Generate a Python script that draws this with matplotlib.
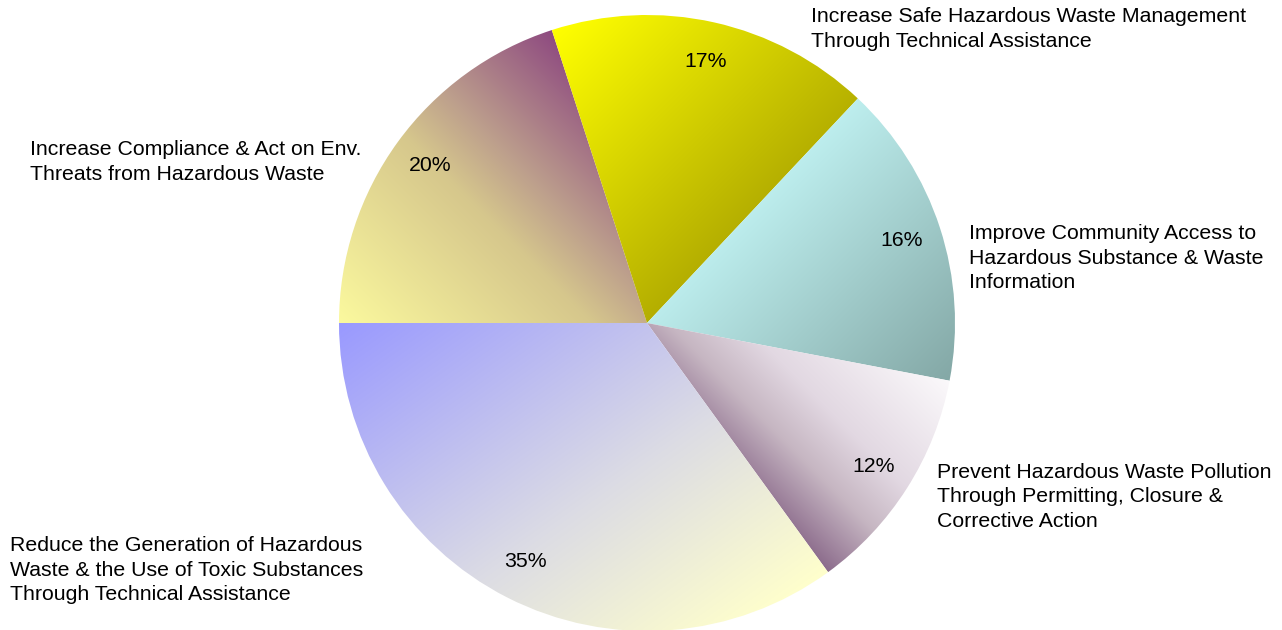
import numpy as np
import matplotlib.pyplot as plt
from matplotlib.colors import to_rgb

# Share of effort by goal
goals = [
    'Increase Compliance & Act on Env.\nThreats from Hazardous Waste',
    'Increase Safe Hazardous Waste Management\nThrough Technical Assistance',
    'Improve Community Access to\nHazardous Substance & Waste\nInformation',
    'Prevent Hazardous Waste Pollution\nThrough Permitting, Closure &\nCorrective Action',
    'Reduce the Generation of Hazardous\nWaste & the Use of Toxic Substances\nThrough Technical Assistance',
]
shares = [20, 17, 16, 12, 35]

# gradient fill per slice: (position, colour) stops and direction (dx, dy) on screen
stops = [
    [(0, '#fbf99e'), (0.5, '#d6c78c'), (0.68, '#bb9c8c'), (1, '#8e4a80')],
    [(0, '#ffff00'), (1, '#b4ae00')],
    [(0, '#bdeeee'), (1, '#84a8a6')],
    [(0, '#fbf9fb'), (0.48, '#e2d8e2'), (0.72, '#c6b6c2'), (1, '#8c6c8c')],
    [(0, '#9999ff'), (0.6, '#dcdce4'), (1, '#ffffcc')],
]
directions = [(1, -1), (1, 1), (1, 1), (-1, 1), (177, 247)]

# label anchors in pixel space (x, y from top)
label_pos = [(30, 162), (811, 29), (969, 258), (937, 497), (10, 570)]

W, H = 1282, 630
fig = plt.figure(figsize=(W / 100, H / 100), dpi=100)
ax = fig.add_axes([0, 0, 1, 1])

cx, cy, r = 647, H - 323, 308
wedges, texts, autotexts = ax.pie(
    shares, startangle=180, counterclock=False, center=(cx, cy), radius=r,
    autopct='%.0f%%', pctdistance=0.87, frame=True,
    textprops=dict(fontsize=15.3, family='Liberation Sans', color='black'),
    wedgeprops=dict(linewidth=0),
)
ax.set_xlim(0, W)
ax.set_ylim(0, H)
ax.set_aspect('equal')
ax.axis('off')

for w, st, (dx, dy) in zip(wedges, stops, directions):
    w.set_facecolor('none')
    d = np.array([dx, -dy], float)
    d /= np.hypot(*d)
    # range of the projection over the slice outline
    th = np.radians(np.linspace(w.theta1, w.theta2, 200))
    outline = np.vstack([[cx, cy], np.column_stack([cx + r * np.cos(th), cy + r * np.sin(th)])])
    proj = outline @ d
    lo, hi = proj.min(), proj.max()
    x0, x1 = outline[:, 0].min(), outline[:, 0].max()
    y0, y1 = outline[:, 1].min(), outline[:, 1].max()
    X, Y = np.meshgrid(np.linspace(x0, x1, int(x1 - x0) + 2),
                       np.linspace(y0, y1, int(y1 - y0) + 2))
    t = np.clip((X * d[0] + Y * d[1] - lo) / (hi - lo), 0, 1)
    pos = [p for p, _ in st]
    rgb = np.array([to_rgb(c) for _, c in st])
    img = np.dstack([np.interp(t, pos, rgb[:, k]) for k in range(3)])
    im = ax.imshow(img, extent=(x0, x1, y0, y1), origin='lower',
                   interpolation='bilinear', zorder=1)
    im.set_clip_path(w)

for t in autotexts:
    t.set_zorder(3)

for txt, (x, y) in zip(goals, label_pos):
    ax.text(x, H - y, txt, ha='left', va='center', fontsize=15.3,
            family='Liberation Sans', linespacing=1.37, zorder=3)

ax.set_xlim(0, W)
ax.set_ylim(0, H)
fig.savefig('out.png', dpi=100)
